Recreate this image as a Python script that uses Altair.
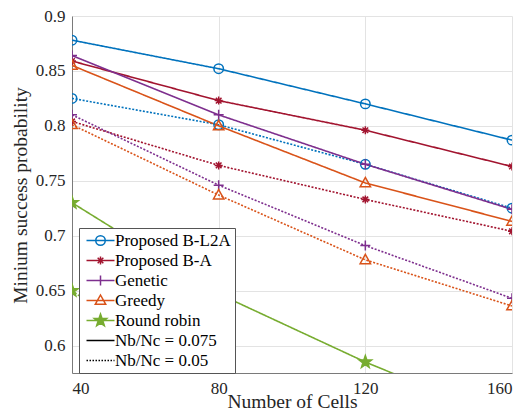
import math
import altair as alt
import pandas as pd

# ---------------- data ----------------
cells = [40, 80, 120, 160]
methods = ["Proposed B-L2A", "Proposed B-A", "Genetic", "Greedy", "Round robin"]
ratios = ["0.075", "0.05"]
ratio_labels = ["Nb/Nc = 0.075", "Nb/Nc = 0.05"]
y_ticks = [0.6, 0.65, 0.7, 0.75, 0.8, 0.85, 0.9]

bl2a_075 = [0.878, 0.852, 0.820, 0.787]
bl2a_05 = [0.825, 0.801, 0.765, 0.725]
ba_075 = [0.859, 0.823, 0.796, 0.763]
ba_05 = [0.804, 0.764, 0.733, 0.704]
gen_075 = [0.864, 0.810, 0.765, 0.724]
gen_05 = [0.810, 0.746, 0.691, 0.643]
greedy_075 = [0.855, 0.800, 0.748, 0.713]
greedy_05 = [0.801, 0.737, 0.678, 0.636]
rr_075 = [0.730, 0.647, 0.585, 0.530]
rr_05 = [0.650, 0.555, 0.470, 0.400]

series = [
    ("Proposed B-L2A", "0.075", bl2a_075),
    ("Proposed B-L2A", "0.05", bl2a_05),
    ("Proposed B-A", "0.075", ba_075),
    ("Proposed B-A", "0.05", ba_05),
    ("Genetic", "0.075", gen_075),
    ("Genetic", "0.05", gen_05),
    ("Greedy", "0.075", greedy_075),
    ("Greedy", "0.05", greedy_05),
    ("Round robin", "0.075", rr_075),
    ("Round robin", "0.05", rr_05),
]

rows = []
for m, r, vals in series:
    for c, v in zip(cells, vals):
        rows.append({"method": m, "ratio": r, "series": m + " " + r, "cells": c, "value": v})
df = pd.DataFrame(rows)

# ---------------- styles ----------------
colors = ["#0072BD", "#A2142F", "#7E2F8E", "#D95319", "#77AC30"]
fills = ["transparent"] * 4 + ["#77AC30"]
legend_entries = methods + ratio_labels
stroke_range = colors + ["#000000", "#000000"]
fill_range = fills + ["transparent", "transparent"]
FONT = "'Liberation Serif', 'DejaVu Serif', serif"


def circle_path(cx, cy, r):
    return (f"M{cx + r:.3f},{cy:.3f}A{r:.3f},{r:.3f} 0 1,1 {cx - r:.3f},{cy:.3f}"
            f"A{r:.3f},{r:.3f} 0 1,1 {cx + r:.3f},{cy:.3f}Z")


def plus_path(cx, cy, r):
    return f"M{cx - r:.3f},{cy:.3f}H{cx + r:.3f}M{cx:.3f},{cy - r:.3f}V{cy + r:.3f}"


def aster_path(cx, cy, r):
    d = r * 0.707
    return plus_path(cx, cy, r) + (f"M{cx - d:.3f},{cy - d:.3f}L{cx + d:.3f},{cy + d:.3f}"
                                   f"M{cx - d:.3f},{cy + d:.3f}L{cx + d:.3f},{cy - d:.3f}")


def tri_path(cx, cy, r):
    return (f"M{cx:.3f},{cy - r:.3f}L{cx + r * 0.95:.3f},{cy + r * 0.7:.3f}"
            f"L{cx - r * 0.95:.3f},{cy + r * 0.7:.3f}Z")


def star_path(cx, cy, r):
    pts = []
    for i in range(10):
        ang = -math.pi / 2 + i * math.pi / 5
        rad = r if i % 2 == 0 else r * 0.40
        pts.append((cx + rad * math.cos(ang), cy + rad * math.sin(ang)))
    return "M" + "L".join(f"{x:.3f},{y:.3f}" for x, y in pts) + "Z"


makers = [circle_path, aster_path, plus_path, tri_path, star_path]
data_sizes = [90, 64, 100, 120, 170]
legend_r = [0.95, 0.8, 1.0, 1.1, 1.3]

# legend symbol: line segment from -1 to 4.6 units with marker at 1.8
L0, L1, MC = -1.0, 4.6, 1.8
solid_seg = f"M{L0},0H{L1}"
dots = []
xpos = L0
while xpos < L1:
    dots.append(f"M{xpos:.2f},0H{min(xpos + 0.3, L1):.2f}")
    xpos += 0.6
dotted_seg = "".join(dots)
legend_paths = [solid_seg + mk(MC, 0, r) for mk, r in zip(makers, legend_r)] + [solid_seg, dotted_seg]

# ---------------- chart ----------------
x_enc = alt.X(
    "cells:Q",
    scale=alt.Scale(domain=[40, 160], nice=False, zero=False),
    axis=alt.Axis(values=cells, title="Number of Cells", titleY=34, titleBaseline="alphabetic"),
)
y_enc = alt.Y(
    "value:Q",
    scale=alt.Scale(domain=[0.575, 0.9], nice=False, zero=False),
    axis=alt.Axis(values=y_ticks, format=".2~f", title="Minium success probability",
                  titleX=-46, titleY=179, titleBaseline="alphabetic", titleAlign="center", titleAngle=270),
)
dash_scale = alt.Scale(domain=ratios, range=[[1, 0], [2, 1.6]])

line_layers = []
point_layers = []
for m, col, fl, mk, sz in zip(methods, colors, fills, makers, data_sizes):
    line_layers.append(
        alt.Chart(df).transform_filter(alt.datum.method == m)
        .mark_line(clip=True, strokeWidth=1.6, color=col)
        .encode(
            x=x_enc,
            y=y_enc,
            strokeDash=alt.StrokeDash("ratio:N", scale=dash_scale, legend=None),
            detail="series:N",
        )
    )
    point_layers.append(
        alt.Chart(df).transform_filter(alt.datum.method == m)
        .mark_point(clip=True, shape=mk(0, 0, 1), size=sz, strokeWidth=1.5, opacity=1,
                    stroke=col, fill=fl, filled=False)
        .encode(x=x_enc, y=y_enc)
    )

leg = alt.Legend(
    title=None, orient="none", legendX=7, legendY=212, padding=4, rowPadding=2,
    labelOffset=15, symbolSize=100, symbolStrokeWidth=1.5, labelFont=FONT, labelFontSize=17,
    labelColor="#000000", fillColor="white", strokeColor="#555555", symbolOpacity=1, labelLimit=300,
)
leg_df = pd.DataFrame({"method": legend_entries, "cells": [40] * 7, "value": [0.5] * 7})
legend_layer = alt.Chart(leg_df).mark_point(clip=True, size=100, strokeWidth=1.5, opacity=1).encode(
    x=x_enc,
    y=y_enc,
    stroke=alt.Stroke("method:N", scale=alt.Scale(domain=legend_entries, range=stroke_range), legend=leg),
    fill=alt.Fill("method:N", scale=alt.Scale(domain=legend_entries, range=fill_range), legend=leg),
    shape=alt.Shape("method:N", scale=alt.Scale(domain=legend_entries, range=legend_paths), legend=leg),
)

chart = alt.layer(*line_layers, *point_layers, legend_layer).properties(
    width=440,
    height=357,
    autosize=alt.AutoSizeParams(type="none"),
    padding={"left": 64, "top": 8, "right": 7, "bottom": 39},
).configure(font=FONT).configure_view(stroke=None).configure_axis(
    grid=True,
    gridColor="#e3e3e3",
    gridWidth=1,
    domainColor="#7a7a7a",
    domainWidth=1,
    ticks=False,
    labelFont=FONT,
    labelFontSize=17,
    labelColor="#262626",
    labelPadding=7,
    titleFont=FONT,
    titleFontSize=19.5,
    titleFontWeight="normal",
    titleColor="#262626",
).configure_axisY(labelPadding=7).configure_legend(labelFont=FONT)

chart.save("out.html", embed_options={"renderer": "svg", "actions": False})
